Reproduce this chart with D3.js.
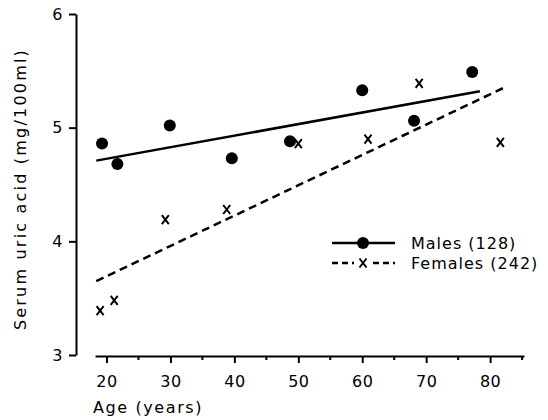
<!DOCTYPE html>
<html lang="en">
<head>
	<meta charset="UTF-8">
	<script src="https://cdn.jsdelivr.net/npm/d3@7"></script>
	<title>Serum uric acid by age</title>
	<style>
		body { margin: 0; background: #fff; color: #000; }
		text { font-family: "DejaVu Sans", sans-serif; fill: #000; }
		.axis path, .axis line { stroke: #000; stroke-width: 2px; }
		.axis text { font-size: 16px; letter-spacing: 0.5px; }
		.label { font-size: 16px; letter-spacing: 1.6px; }
		.ylabel { font-size: 16px; letter-spacing: 2.2px; }
		.legend_text { font-size: 16px; letter-spacing: 1px; }
	</style>
</head>
<body>
<script>
	// values
	const maleAge = [19.3, 21.7, 29.9, 39.6, 48.7, 60.0, 68.1, 77.2];
	const maleAcid = [4.86, 4.68, 5.02, 4.73, 4.88, 5.33, 5.06, 5.49];
	const femaleAge = [19.0, 21.2, 29.2, 38.8, 50.0, 60.9, 68.9, 81.6];
	const femaleAcid = [3.39, 3.48, 4.19, 4.28, 4.86, 4.90, 5.39, 4.87];
	// fitted lines, start and end
	const maleFitAge = [18.4, 78.4];
	const maleFitAcid = [4.71, 5.32];
	const femaleFitAge = [18.4, 82.3];
	const femaleFitAcid = [3.65, 5.355];
	const xTicks = [20, 30, 40, 50, 60, 70, 80];
	const xMinor = [25, 35, 45, 55, 65, 75, 85];
	const yTicks = [3, 4, 5, 6];
	const legendLabels = ["Males (128)", "Females (242)"];

	const width = 548, height = 420;
	const svg = d3.select("body").append("svg")
		.attr("width", width)
		.attr("height", height);

	const x = d3.scaleLinear().domain([18.2, 85.3]).range([95, 524]);
	const y = d3.scaleLinear().domain([3, 6]).range([355, 14]);

	// y axis
	svg.append("g")
		.attr("class", "axis")
		.attr("transform", "translate(76,0)")
		.call(d3.axisLeft(y).tickValues(yTicks).tickFormat(d3.format("d"))
			.tickSize(7).tickSizeOuter(0).tickPadding(6));

	// x axis, detached from the y axis
	const xg = svg.append("g")
		.attr("class", "axis")
		.attr("transform", "translate(0,356)");
	xg.call(d3.axisBottom(x).tickValues(xTicks).tickFormat(d3.format("d"))
		.tickSize(7).tickSizeOuter(0).tickPadding(13));
	xg.selectAll(".minor")
		.data(xMinor)
		.enter()
		.append("line")
		.attr("class", "minor")
		.attr("x1", d => x(d)).attr("x2", d => x(d))
		.attr("y1", 0).attr("y2", 4);

	svg.append("text")
		.attr("class", "label")
		.attr("x", 93).attr("y", 413)
		.text("Age (years)");
	svg.append("text")
		.attr("class", "ylabel")
		.attr("transform", "translate(26,189) rotate(-90)")
		.attr("text-anchor", "middle")
		.text("Serum uric acid (mg/100ml)");

	// fitted lines
	const line = d3.line().x(d => x(d[0])).y(d => y(d[1]));
	svg.append("path")
		.attr("d", line(d3.zip(maleFitAge, maleFitAcid)))
		.attr("fill", "none").attr("stroke", "#000").attr("stroke-width", 2.5);
	svg.append("path")
		.attr("d", line(d3.zip(femaleFitAge, femaleFitAcid)))
		.attr("fill", "none").attr("stroke", "#000").attr("stroke-width", 2.5)
		.attr("stroke-dasharray", "8,5");

	// markers
	const cross = "M-3.5,-4.5L3.5,4.5M3.5,-4.5L-3.5,4.5";
	svg.selectAll(".male")
		.data(d3.zip(maleAge, maleAcid))
		.enter()
		.append("circle")
		.attr("class", "male")
		.attr("cx", d => x(d[0])).attr("cy", d => y(d[1]))
		.attr("r", 6).attr("fill", "#000");
	svg.selectAll(".female")
		.data(d3.zip(femaleAge, femaleAcid))
		.enter()
		.append("path")
		.attr("class", "female")
		.attr("transform", d => "translate(" + x(d[0]) + "," + y(d[1]) + ")")
		.attr("d", cross)
		.attr("fill", "none").attr("stroke", "#000").attr("stroke-width", 2);

	// legend
	const lg = svg.append("g").attr("transform", "translate(332,243)");
	lg.append("line").attr("x1", 0).attr("x2", 63).attr("y1", 0).attr("y2", 0)
		.attr("stroke", "#000").attr("stroke-width", 2.5);
	lg.append("circle").attr("cx", 31).attr("cy", 0).attr("r", 6).attr("fill", "#000");
	lg.append("line").attr("x1", 0).attr("x2", 22).attr("y1", 20).attr("y2", 20)
		.attr("stroke", "#000").attr("stroke-width", 2.5).attr("stroke-dasharray", "6,4");
	lg.append("line").attr("x1", 41).attr("x2", 63).attr("y1", 20).attr("y2", 20)
		.attr("stroke", "#000").attr("stroke-width", 2.5).attr("stroke-dasharray", "6,4");
	lg.append("path").attr("transform", "translate(31,20)").attr("d", cross)
		.attr("fill", "none").attr("stroke", "#000").attr("stroke-width", 2);
	lg.selectAll(".legend_text")
		.data(legendLabels)
		.enter()
		.append("text")
		.attr("class", "legend_text")
		.attr("x", 79).attr("y", (d, i) => 6 + i * 20)
		.text(d => d);
</script>
</body>
</html>
